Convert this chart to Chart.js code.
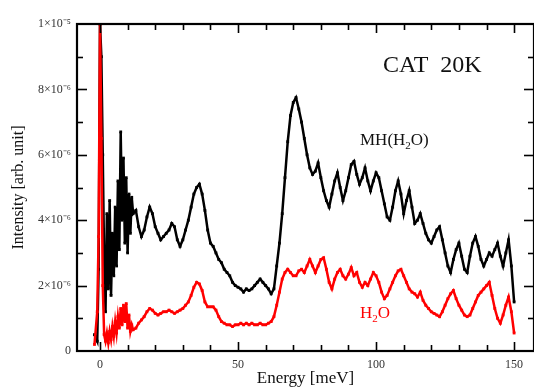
<!DOCTYPE html>
<html>
<head>
<meta charset="utf-8">
<script src="https://cdn.jsdelivr.net/npm/chart.js@4.4.0/dist/chart.umd.min.js"></script>
<style>
  html, body { margin: 0; padding: 0; background: #fff; overflow: hidden; }
  #wrap { width: 534px; height: 392px; }
  canvas { display: block; }
</style>
</head>
<body>
<div id="wrap"><canvas id="chart"></canvas></div>
<script>
// energy transfer [meV]
const energy = [
  -2, -1, -0.5, 0, 0.5, 1, 1.5, 2, 2.5, 3, 3.5, 4, 4.5, 5, 5.5, 6, 6.5, 7, 7.5, 8, 8.5, 9, 9.5, 10, 10.5, 11, 11.5, 12,
  13, 14, 15, 16, 17, 18, 19, 20, 21, 22,
  23, 24, 25, 26, 27, 28, 29, 30, 31, 32,
  33, 34, 35, 36, 37, 38, 39, 40, 41, 42,
  43, 44, 45, 46, 47, 48, 49, 50, 51, 52,
  53, 54, 55, 56, 57, 58, 59, 60, 61, 62,
  63, 64, 65, 66, 67, 68, 69, 70, 71, 72,
  73, 74, 75, 76, 77, 78, 79, 80, 81, 82,
  83, 84, 85, 86, 87, 88, 89, 90, 91, 92,
  93, 94, 95, 96, 97, 98, 99, 100, 101, 102,
  103, 104, 105, 106, 107, 108, 109, 110, 111, 112,
  113, 114, 115, 116, 117, 118, 119, 120, 121, 122,
  123, 124, 125, 126, 127, 128, 129, 130, 131, 132,
  133, 134, 135, 136, 137, 138, 139, 140, 141, 142,
  143, 144, 145, 146, 147, 148, 149, 150
];

// intensity, in units of 1e-6
const mhH2o = [
  0.5, 0.3, 2.5, 10, 9.0, 6.0, 2.8, 1.2, 4.2, 1.9, 4.6, 1.7, 3.6, 2.3, 4.4, 2.6, 5.2, 3.1, 6.7, 4.0, 5.9, 3.3, 5.3, 3.0, 4.8, 3.6, 4.7, 4.2,
  4.3, 3.8, 3.5, 3.7, 4.1, 4.4, 4.2, 3.8, 3.6, 3.4,
  3.5, 3.6, 3.7, 3.9, 3.8, 3.4, 3.2, 3.4, 3.7, 4.0,
  4.4, 4.8, 5.0, 5.1, 4.8, 4.3, 3.7, 3.3, 3.2, 3.0,
  2.8, 2.7, 2.5, 2.4, 2.3, 2.1, 2.0, 1.95, 1.9, 1.8,
  1.9, 1.85, 1.9, 2.0, 2.1, 2.2, 2.1, 2.0, 1.9, 1.75,
  1.9, 2.6, 3.3, 4.2, 5.3, 6.4, 7.2, 7.6, 7.75, 7.4,
  7.0, 6.5, 6.0, 5.6, 5.4, 5.5, 5.75, 5.3, 4.9, 4.6,
  4.4, 4.8, 5.2, 5.45, 5.0, 4.6, 4.9, 5.3, 5.7, 5.8,
  5.4, 5.1, 5.3, 5.6, 5.2, 4.9, 5.2, 5.45, 5.3, 4.9,
  4.5, 4.1, 4.0, 4.4, 4.9, 5.2, 4.8, 4.2, 4.6, 4.9,
  4.4, 3.9, 4.0, 4.2, 3.9, 3.6, 3.4, 3.3, 3.5, 3.7,
  3.8, 3.4, 3.0, 2.6, 2.4, 2.8, 3.1, 3.3, 2.9, 2.5,
  2.4, 2.9, 3.3, 3.5, 3.2, 2.8, 2.6, 2.8, 3.0, 2.9,
  3.1, 3.3, 2.9, 2.6, 3.0, 3.4, 2.6, 1.5
];

const h2o = [
  0.2, 1.2, 3.5, 10, 6.5, 2.0, 0.5, 0.3, 0.55, 0.25, 0.6, 0.35, 0.75, 0.45, 0.9, 0.55, 1.05, 0.7, 1.3, 0.8, 1.4, 0.9, 1.45, 0.7, 1.1, 0.6, 0.8, 0.65,
  0.7, 0.85, 0.95, 1.05, 1.2, 1.3, 1.25, 1.15, 1.1, 1.15,
  1.2, 1.2, 1.25, 1.2, 1.15, 1.2, 1.25, 1.3, 1.4, 1.5,
  1.7, 1.95, 2.1, 2.05, 1.85, 1.5, 1.35, 1.35, 1.35, 1.25,
  1.05, 0.9, 0.85, 0.8, 0.8, 0.75, 0.8, 0.8, 0.85, 0.8,
  0.85, 0.8, 0.85, 0.8, 0.8, 0.85, 0.8, 0.8, 0.85, 0.9,
  1.05, 1.4, 1.8, 2.2, 2.4, 2.5, 2.4, 2.3, 2.3, 2.45,
  2.5, 2.4, 2.6, 2.8, 2.6, 2.4, 2.6, 2.8, 2.85, 2.5,
  2.1, 1.9, 2.2, 2.4, 2.5, 2.3, 2.2, 2.35, 2.55, 2.3,
  2.4, 2.1, 1.95, 2.1, 2.0, 2.2, 2.4, 2.3, 2.1, 1.8,
  1.6, 1.7, 1.9, 2.1, 2.3, 2.45, 2.5, 2.3, 2.1, 1.9,
  1.8, 1.75, 1.65, 1.8, 1.55, 1.4, 1.3, 1.2, 1.15, 1.1,
  1.05, 1.2, 1.4, 1.6, 1.75, 1.85, 1.6, 1.4, 1.25, 1.1,
  1.05, 1.1, 1.3, 1.5, 1.7, 1.8, 1.9, 2.0, 2.1, 1.7,
  1.3, 1.0, 0.85, 1.1, 1.4, 1.65, 1.2, 0.55
];

const xTicks = [0, 50, 100, 150];
const xMinor = [0, 10, 20, 30, 40, 50, 60, 70, 80, 90, 100, 110, 120, 130, 140, 150];
const yTicks = [0, 2, 4, 6, 8, 10];
const yTickLabels = ['0', '2×10⁻⁶', '4×10⁻⁶', '6×10⁻⁶', '8×10⁻⁶', '1×10⁻⁵'];
const yMinor = [1, 2, 3, 4, 5, 6, 7, 8, 9];

const serif = '"Liberation Serif", "Times New Roman", serif';

// draws the box, inward ticks on all sides and the text labels
const framePlugin = {
  id: 'frame',
  afterDatasetsDraw(chart) {
    const { ctx, chartArea: a, scales: { x, y } } = chart;
    ctx.save();
    ctx.strokeStyle = '#000';
    ctx.lineWidth = 1.6;
    const seg = (x1, y1, x2, y2) => {
      ctx.beginPath(); ctx.moveTo(x1, y1); ctx.lineTo(x2, y2); ctx.stroke();
    };
    xMinor.forEach(v => {
      const px = Math.round(x.getPixelForValue(v)) + 0.5;
      const len = v % 50 === 0 ? 9 : 6;
      seg(px, a.bottom, px, a.bottom - len);
      seg(px, a.top, px, a.top + len);
    });
    yMinor.forEach(v => {
      const py = Math.round(y.getPixelForValue(v)) + 0.5;
      const len = v % 2 === 0 ? 10 : 6;
      seg(a.left, py, a.left + len, py);
      seg(a.right, py, a.right - len, py);
    });
    ctx.lineWidth = 2.2;
    ctx.strokeRect(a.left, a.top, a.right - a.left, a.bottom - a.top);

    // annotations
    ctx.textBaseline = 'alphabetic';
    ctx.fillStyle = '#111';
    ctx.font = '24px ' + serif;
    ctx.fillText('CAT  20K', 383, 72);

    const withSub = (parts, x0, y0, size, color) => {
      ctx.fillStyle = color;
      let cx = x0;
      parts.forEach(([t, sub]) => {
        ctx.font = (sub ? Math.round(size * 0.65) : size) + 'px ' + serif;
        ctx.fillText(t, cx, sub ? y0 + 4 : y0);
        cx += ctx.measureText(t).width;
      });
    };
    withSub([['MH(H', false], ['2', true], ['O)', false]], 360, 145, 17, '#111');
    withSub([['H', false], ['2', true], ['O', false]], 360, 318, 17, '#ff0000');
    ctx.restore();
  }
};

new Chart(document.getElementById('chart'), {
  type: 'line',
  data: {
    datasets: [{
      label: 'H2O',
      data: energy.map((e, i) => ({ x: e, y: h2o[i] })),
      borderColor: '#ff0000',
      backgroundColor: '#ff0000',
      borderWidth: 2.5,
      pointStyle: 'rect',
      pointRadius: 2,
      pointBorderWidth: 0,
      tension: 0
    }, {
      label: 'MH(H2O)',
      data: energy.map((e, i) => ({ x: e, y: mhH2o[i] })),
      borderColor: '#000000',
      backgroundColor: '#000000',
      borderWidth: 2.5,
      pointStyle: 'rect',
      pointRadius: 2,
      pointBorderWidth: 0,
      tension: 0
    }]
  },
  options: {
    responsive: true,
    maintainAspectRatio: false,
    animation: false,
    layout: { autoPadding: false, padding: { top: 24, right: 0, bottom: 0, left: 0 } },
    plugins: { legend: { display: false }, tooltip: { enabled: false } },
    scales: {
      x: {
        type: 'linear',
        min: -8.33,
        max: 157.2,
        grid: { display: false, drawTicks: false },
        border: { display: false },
        afterBuildTicks: s => { s.ticks = xTicks.map(v => ({ value: v })); },
        afterFit: s => { s.height = 41; },
        ticks: {
          padding: 7,
          color: '#333',
          font: { family: serif, size: 12 },
          maxRotation: 0
        },
        title: {
          display: true,
          text: 'Energy [meV]',
          color: '#111',
          font: { family: serif, size: 17 },
          padding: { top: 0, bottom: 3 }
        }
      },
      y: {
        min: 0,
        max: 10,
        grid: { display: false, drawTicks: false },
        border: { display: false },
        afterBuildTicks: s => { s.ticks = yTicks.map(v => ({ value: v })); },
        afterFit: s => { s.width = 77; },
        ticks: {
          padding: 6,
          color: '#333',
          font: { family: serif, size: 12 },
          callback: v => yTickLabels[yTicks.indexOf(v)]
        },
        title: {
          display: true,
          text: 'Intensity [arb. unit]',
          color: '#111',
          font: { family: serif, size: 16 },
          padding: { top: 9, bottom: 0 }
        }
      }
    }
  },
  plugins: [framePlugin]
});
</script>
</body>
</html>
